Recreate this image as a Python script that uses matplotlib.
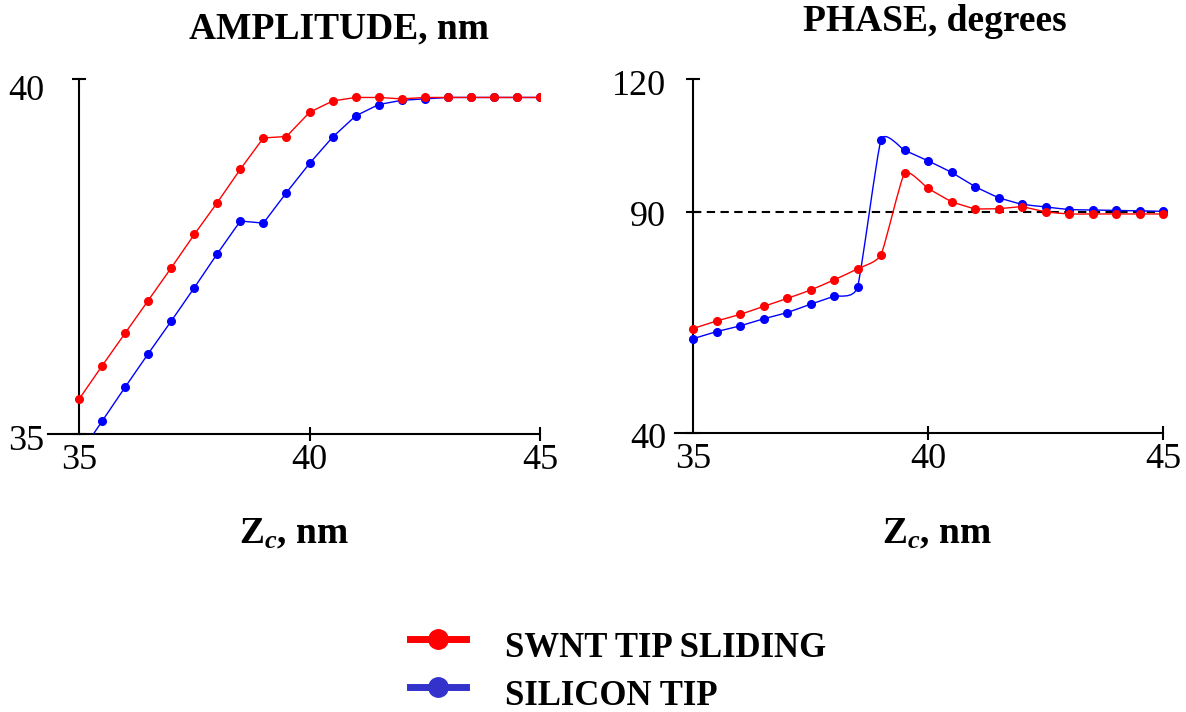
import numpy as np
import matplotlib
matplotlib.use("Agg")
import matplotlib.pyplot as plt
import matplotlib.transforms as mtransforms
from matplotlib.path import Path
from matplotlib.patches import PathPatch
from matplotlib.lines import Line2D

plt.rcParams['font.family'] = ['Liberation Serif', 'DejaVu Serif']
plt.rcParams['mathtext.fontset'] = 'custom'
plt.rcParams['mathtext.rm'] = 'Liberation Serif:bold'
plt.rcParams['mathtext.it'] = 'Liberation Serif:bold:italic'
plt.rcParams['mathtext.bf'] = 'Liberation Serif:bold'

# ---- data -------------------------------------------------------------
z_c = [35.0, 35.5, 36.0, 36.5, 37.0, 37.5, 38.0, 38.5, 39.0, 39.5, 40.0,
       40.5, 41.0, 41.5, 42.0, 42.5, 43.0, 43.5, 44.0, 44.5, 45.0]

amp_swnt = [35.49, 35.96, 36.42, 36.88, 37.34, 37.81, 38.26, 38.73, 39.17, 39.19, 39.53,
            39.69, 39.74, 39.74, 39.72, 39.74, 39.74, 39.74, 39.74, 39.74, 39.74]
amp_si = [34.70, 35.18, 35.66, 36.13, 36.59, 37.06, 37.54, 38.00, 37.97, 38.40, 38.81,
          39.18, 39.48, 39.64, 39.70, 39.72, 39.74, 39.74, 39.74, 39.74, 39.74]

ph_swnt = [63.6, 65.3, 66.8, 68.6, 70.4, 72.3, 74.6, 77.1, 80.3, 98.7, 95.3,
           92.3, 90.7, 90.7, 91.1, 90.0, 89.5, 89.5, 89.5, 89.5, 89.5]
ph_si = [61.3, 62.9, 64.2, 65.8, 67.2, 69.1, 70.9, 73.0, 106.2, 103.9, 101.5,
         98.9, 95.7, 93.2, 91.7, 91.1, 90.5, 90.4, 90.3, 90.2, 90.1]

x_ticks = [35, 40, 45]
amp_ticks = [35, 40]
ph_ticks = [40, 90, 120]
ph_ref = 90

labels = ['SWNT TIP SLIDING', 'SILICON TIP']

RED = '#ff0000'
BLUE = '#0000ff'
LEG_BLUE = '#3333cc'

# ---- figure -----------------------------------------------------------
W, H = 1186, 712
fig = plt.figure(figsize=(W / 100, H / 100), dpi=100)


def px_axes(x0, x1, ytop, ybot):
    return fig.add_axes([x0 / W, 1 - ybot / H, (x1 - x0) / W, (ybot - ytop) / H])


def style(ax, xlim, ylim, yticks, ypad, ylabel_shift):
    ax.set_xlim(*xlim)
    ax.set_ylim(*ylim)
    ax.patch.set_visible(False)
    for s in ('top', 'right'):
        ax.spines[s].set_visible(False)
    ax.spines['left'].set_position(('data', 35))
    for s in ('left', 'bottom'):
        ax.spines[s].set_linewidth(1.5)
    ax.set_xticks(x_ticks)
    ax.set_yticks(yticks)
    ax.tick_params(direction='inout', length=10, width=1.5, labelsize=26)
    ax.tick_params(axis='y', pad=ypad)
    ax.tick_params(axis='x', pad=2)
    ax.xaxis.get_major_ticks()[0].tick1line.set_visible(False)
    # nudge the y tick labels slightly downward
    for lab, dy in zip(ax.get_yticklabels(), ylabel_shift):
        off = mtransforms.ScaledTranslation(0, -dy / 100, fig.dpi_scale_trans)
        lab.set_transform(lab.get_transform() + off)


def smooth_path(ax, xs, ys, color, tension=0.5, lw=1.0, zorder=2):
    """Cardinal-spline curve through the points, built from cubic Bezier segments."""
    p = np.column_stack([xs, ys]).astype(float)
    ext = np.vstack([p[0], p, p[-1]])
    verts = [p[0]]
    codes = [Path.MOVETO]
    for i in range(len(p) - 1):
        p0, p1, p2, p3 = ext[i], ext[i + 1], ext[i + 2], ext[i + 3]
        c1 = p1 + tension * (p2 - p0) / 6.0
        c2 = p2 - tension * (p3 - p1) / 6.0
        verts += [c1, c2, p2]
        codes += [Path.CURVE4] * 3
    patch = PathPatch(Path(verts, codes), facecolor='none', edgecolor=color,
                      lw=lw, transform=ax.transData, zorder=zorder)
    ax.add_patch(patch)


# amplitude panel
ax1 = px_axes(48, 540, 79, 434)
style(ax1, (34.327, 45), (35, 40), amp_ticks, 20, [3, 9])
ax1.plot(z_c, amp_si, color=BLUE, lw=1.0, marker='o', ms=5.5, zorder=3)
ax1.plot(z_c, amp_swnt, color=RED, lw=1.0, marker='o', ms=5.5, zorder=4)

# phase panel
ax2 = px_axes(675, 1163, 79, 433)
style(ax2, (34.617, 45), (40, 120), ph_ticks, 14.5, [3, 2, 4])
ax2.hlines(ph_ref, 35, 45.1, colors='black', linestyles=(0, (4, 2.6)), lw=1.5,
           zorder=2, clip_on=False)
smooth_path(ax2, z_c, ph_si, BLUE, zorder=3)
ax2.plot(z_c, ph_si, ls='none', color=BLUE, marker='o', ms=5.5, zorder=3,
         clip_on=False)
smooth_path(ax2, z_c, ph_swnt, RED, zorder=4)
ax2.plot(z_c, ph_swnt, ls='none', color=RED, marker='o', ms=5.5, zorder=4,
         clip_on=False)

# titles and axis labels
fig.text(339 / W, 1 - 38 / H, 'AMPLITUDE, nm', ha='center', va='baseline',
         fontsize=27, fontweight='bold')
fig.text(935 / W, 1 - 31 / H, 'PHASE, degrees', ha='center', va='baseline',
         fontsize=27, fontweight='bold')
for cx in (294, 937):
    fig.text(cx / W, 1 - 543 / H, r'$\mathrm{Z}_{c}$, nm', ha='center',
             va='baseline', fontsize=27, fontweight='bold')

# legend
for (ly, tb), lab, col in zip([(639, 657), (687, 705)], labels, [RED, LEG_BLUE]):
    fig.add_artist(Line2D([410 / W, 466 / W], [1 - ly / H] * 2,
                          transform=fig.transFigure, color=col, lw=5))
    fig.add_artist(Line2D([438 / W], [1 - ly / H], transform=fig.transFigure,
                          color=col, marker='o', ms=14, ls='none'))
    fig.text(505 / W, 1 - tb / H, lab, ha='left', va='baseline', fontsize=25,
             fontweight='bold')

fig.savefig('out.png', dpi=100)
